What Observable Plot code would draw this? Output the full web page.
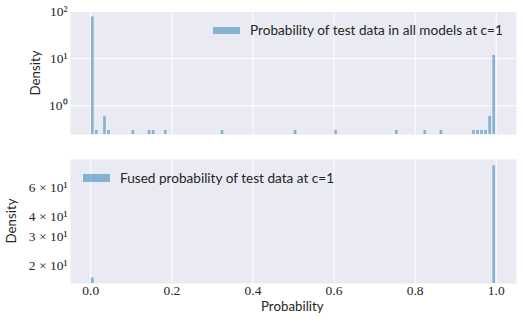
<!DOCTYPE html>
<html>
<head>
<meta charset="utf-8">
<script src="https://cdn.jsdelivr.net/npm/d3@7"></script>
<script src="https://cdn.jsdelivr.net/npm/@observablehq/plot@0.6"></script>
<style>
  body { margin: 0; background: white; }
  #wrap { position: relative; width: 523px; height: 322px; overflow: hidden; }
  #wrap svg { position: absolute; left: 0; }
  .lbl { position: absolute; font-family: Lato, sans-serif; font-size: 13.3px; color: #262626; white-space: nowrap; line-height: 1.2; }
  .leg { font-size: 13.6px; }
  .patch { position: absolute; background: #1f77b4; opacity: 0.5; }
</style>
</head>
<body>
<div id="wrap"></div>
<script>
// Data (bin left edges, bin width 0.01, density values)
const binWidth = 0.01;
const topBins = [0.00, 0.01, 0.03, 0.04, 0.10, 0.14, 0.15, 0.18, 0.32, 0.50, 0.60, 0.75, 0.82, 0.86, 0.94, 0.95, 0.96, 0.97, 0.98, 0.99];
const topDensity = [76.7, 0.298, 0.596, 0.298, 0.298, 0.298, 0.298, 0.298, 0.298, 0.298, 0.298, 0.298, 0.298, 0.298, 0.298, 0.298, 0.298, 0.298, 0.596, 11.7];
const fusedBins = [0.00, 0.99];
const fusedDensity = [16.7, 82.5];
const xTicks = [0, 0.2, 0.4, 0.6, 0.8, 1.0];
const xTickLabels = ["0.0", "0.2", "0.4", "0.6", "0.8", "1.0"];
const topYTicks = [1, 10, 100];
const topYTickLabels = ["10⁰", "10¹", "10²"];
const botYTicks = [20, 30, 40, 60];
const botYTickLabels = ["2 × 10¹", "3 × 10¹", "4 × 10¹", "6 × 10¹"];
const topLegend = "Probability of test data in all models at c=1";
const botLegend = "Fused probability of test data at c=1";

const topData = topBins.map((b, i) => ({x1: b, x2: b + binWidth, y: topDensity[i]}));
const botData = fusedBins.map((b, i) => ({x1: b, x2: b + binWidth, y: fusedDensity[i]}));
const topTickData = topYTicks.map((v, i) => ({v, label: topYTickLabels[i]}));
const botTickData = botYTicks.map((v, i) => ({v, label: botYTickLabels[i]}));
const xTickData = xTicks.map((v, i) => ({v, label: xTickLabels[i]}));

const bg = "#EAEAF2";
const barColor = "#1f77b4";
const serif = "'Liberation Serif', serif";
const xDomain = [-0.05, 1.05];

const wrap = document.getElementById("wrap");

const topChart = Plot.plot({
  width: 523, height: 140,
  marginLeft: 70, marginRight: 7, marginTop: 11, marginBottom: 6,
  style: {background: "transparent", overflow: "visible"},
  x: {domain: xDomain, axis: null},
  y: {type: "log", domain: [0.245, 100], axis: null},
  marks: [
    Plot.frame({fill: bg}),
    Plot.gridX(xTicks, {stroke: "white", strokeOpacity: 1, strokeWidth: 1}),
    Plot.gridY(topYTicks, {stroke: "white", strokeOpacity: 1, strokeWidth: 1}),
    Plot.rect(topData, {x1: "x1", x2: "x2", y1: 0.245, y2: "y", fill: barColor, fillOpacity: 0.5, insetLeft: 0.7, insetRight: 0.7}),
    Plot.text(topTickData, {y: "v", text: "label", frameAnchor: "left", textAnchor: "end", dx: -3, fontSize: 13.5, fontFamily: serif, fill: "#262626"})
  ]
});
topChart.style.top = "0px";
wrap.appendChild(topChart);

const botChart = Plot.plot({
  width: 523, height: 182,
  marginLeft: 70, marginRight: 7, marginTop: 19, marginBottom: 39,
  style: {background: "transparent", overflow: "visible"},
  x: {domain: xDomain, axis: null},
  y: {type: "log", domain: [15.45, 90.2], axis: null},
  marks: [
    Plot.frame({fill: bg}),
    Plot.gridX(xTicks, {stroke: "white", strokeOpacity: 1, strokeWidth: 1}),
    Plot.rect(botData, {x1: "x1", x2: "x2", y1: 15.45, y2: "y", fill: barColor, fillOpacity: 0.5, insetLeft: 0.7, insetRight: 0.7}),
    Plot.text(botTickData, {y: "v", text: "label", frameAnchor: "left", textAnchor: "end", dx: -3, fontSize: 13.5, fontFamily: serif, fill: "#262626"}),
    Plot.text(xTickData, {x: "v", text: "label", frameAnchor: "bottom", lineAnchor: "top", dy: 2, fontSize: 13.5, fontFamily: serif, fill: "#262626"})
  ]
});
botChart.style.top = "140px";
wrap.appendChild(botChart);

function addLabel(text, left, topPx, extra, cls) {
  const d = document.createElement("div");
  d.className = "lbl" + (cls ? " " + cls : "");
  d.textContent = text;
  d.style.left = left + "px";
  d.style.top = topPx + "px";
  if (extra) Object.assign(d.style, extra);
  wrap.appendChild(d);
  return d;
}
function addPatch(left, topPx, w, h) {
  const p = document.createElement("div");
  p.className = "patch";
  Object.assign(p.style, {left: left + "px", top: topPx + "px", width: w + "px", height: h + "px"});
  wrap.appendChild(p);
}

// Legends
addPatch(213, 27, 27, 7);
addLabel(topLegend, 250, 22, null, "leg");
addPatch(83, 174, 27, 8);
addLabel(botLegend, 120, 170, null, "leg");

// Axis titles
addLabel("Probability", 261, 299);
addLabel("Density", 36, 73, {transform: "translate(-50%,-50%) rotate(-90deg)"});
addLabel("Density", 12, 221, {transform: "translate(-50%,-50%) rotate(-90deg)"});
</script>
</body>
</html>
